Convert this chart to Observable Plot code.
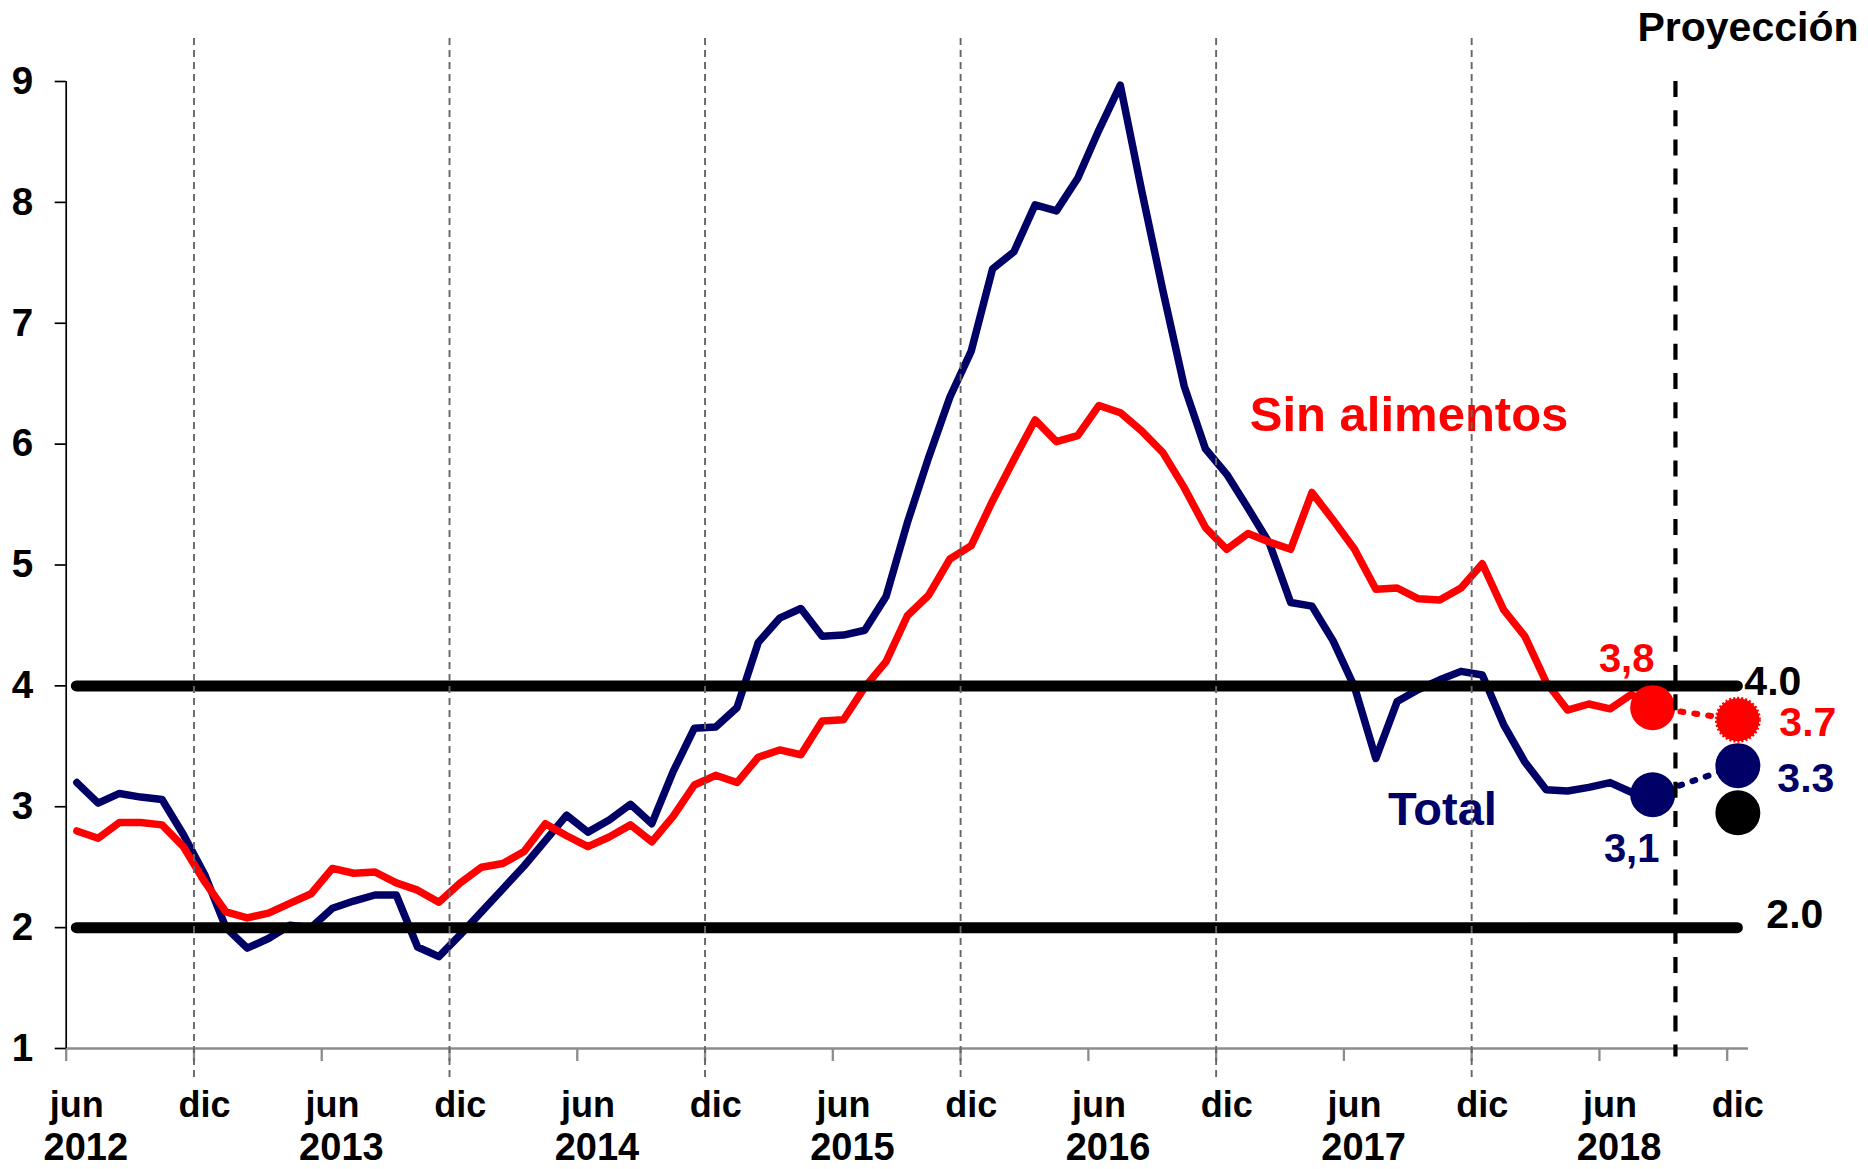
<!DOCTYPE html>
<html><head><meta charset="utf-8">
<script src="https://cdn.jsdelivr.net/npm/d3@7"></script>
<script src="https://cdn.jsdelivr.net/npm/@observablehq/plot@0.6"></script>
<style>
html,body{margin:0;padding:0;background:#fff}
svg{display:block}
</style>
</head><body><div id="chart"></div>
<script>
// month index 0 = jun 2012 ... 74 = ago 2018, 78 = dic 2018
const total = [
 3.20, 3.03, 3.11, 3.08, 3.06, 2.77, 2.44,
 2.00, 1.83, 1.91, 2.02, 2.00, 2.16, 2.22, 2.27, 2.27, 1.84, 1.76, 1.94,
 2.13, 2.32, 2.51, 2.72, 2.93, 2.79, 2.89, 3.02, 2.86, 3.29, 3.65, 3.66,
 3.82, 4.36, 4.56, 4.64, 4.41, 4.42, 4.46, 4.74, 5.35, 5.89, 6.39, 6.77,
 7.45, 7.59, 7.98, 7.93, 8.20, 8.60, 8.97, 8.10, 7.27, 6.48, 5.96, 5.75,
 5.47, 5.18, 4.69, 4.66, 4.37, 3.99, 3.40, 3.87, 3.97, 4.05, 4.12, 4.09,
 3.68, 3.37, 3.14, 3.13, 3.16, 3.20, 3.12, 3.10];
const sinAlimentos = [
 2.80, 2.74, 2.87, 2.87, 2.85, 2.67, 2.38,
 2.13, 2.08, 2.12, 2.20, 2.28, 2.49, 2.45, 2.46, 2.37, 2.31, 2.21, 2.37,
 2.50, 2.53, 2.63, 2.86, 2.76, 2.67, 2.75, 2.85, 2.71, 2.92, 3.18, 3.26,
 3.20, 3.41, 3.47, 3.43, 3.71, 3.72, 3.99, 4.20, 4.58, 4.75, 5.05, 5.16,
 5.53, 5.87, 6.20, 6.02, 6.07, 6.32, 6.26, 6.11, 5.93, 5.64, 5.31, 5.13,
 5.26, 5.19, 5.13, 5.60, 5.37, 5.13, 4.80, 4.81, 4.72, 4.71, 4.81, 5.01,
 4.63, 4.41, 4.03, 3.80, 3.85, 3.81, 3.93, 3.82];

const tickMonths = [0, 6, 12, 18, 24, 30, 36, 42, 48, 54, 60, 66, 72, 78];
const tickLabels = ["jun","dic","jun","dic","jun","dic","jun","dic","jun","dic","jun","dic","jun","dic"];
const yearMonths = [0, 12, 24, 36, 48, 60, 72];
const yearLabels = ["2012","2013","2014","2015","2016","2017","2018"];
const yTicks = [1, 2, 3, 4, 5, 6, 7, 8, 9];

const rangoMeta = [2, 4];
const rangoEtiquetas = ["2.0", "4.0"];

const ultimoMes = 74;
const ultimoEtiquetas = {sin: "3,8", total: "3,1"};
const proyMes = 78;
const proySin = 3.72, proyTotal = 3.34, proyMeta = 2.95;
const proyEtiquetas = {sin: "3.7", total: "3.3"};
const lineaProyeccion = 75.07;

const serieLabels = [
  {text: "Sin alimentos", m: 62.56, v: 6.24, color: "red"},
  {text: "Total", m: 64.13, v: 2.97, color: "navy"}
];

const NAVY = "#000066", RED = "#ff0000", GRAY = "#8c8c8c";
const colorOf = {red: RED, navy: NAVY};

const data = total.map((t, i) => ({m: i, total: t, sin: sinAlimentos[i]}));
const bounds = tickMonths.map(m => m - 0.5);
const dicBounds = tickMonths.filter((m, i) => tickLabels[i] === "dic" && m < proyMes).map(m => m - 0.5);

const lastSin = sinAlimentos[ultimoMes], lastTot = total[ultimoMes];
const bold = {fontWeight: "bold", lineAnchor: "middle"};

const plot = Plot.plot({
  width: 1868, height: 1169,
  marginLeft: 65.7, marginRight: 120, marginTop: 81, marginBottom: 121,
  x: {domain: [-0.5, 78.5], axis: null},
  y: {domain: [1, 9], axis: null},
  style: {fontFamily: "'Liberation Sans', Arial, sans-serif", fontWeight: "bold", fontSize: "36px", background: "#fff", overflow: "visible", color: "black"},
  marks: [
    // x axis
    Plot.ruleY([1], {x1: -0.5, x2: 78.5, stroke: GRAY, strokeWidth: 2.3}),
    Plot.axisX({ticks: bounds, tickSize: 13, tickFormat: () => "", stroke: GRAY, strokeWidth: 2.3, label: null, anchor: "bottom"}),
    // y axis
    Plot.ruleX([-0.5], {y1: 1, y2: 9, stroke: "black", strokeWidth: 1.7}),
    Plot.axisY({ticks: yTicks, tickSize: 11, tickPadding: 22, fontSize: 38.6, fontWeight: "bold", stroke: "black", strokeWidth: 1.7, tickFormat: d => String(d), label: null, anchor: "left"}),
    // x labels
    Plot.text(tickMonths, {x: d => d, y: () => 1, text: (d, i) => tickLabels[i], dy: 56.5, fontSize: 36, fill: "black", ...bold}),
    Plot.text(yearMonths, {x: d => d, y: () => 1, text: (d, i) => yearLabels[i], dx: 9, dy: 99, fontSize: 38, fill: "black", ariaLabel: "years", ...bold}),
    // series
    Plot.line(data, {x: "m", y: "total", stroke: NAVY, strokeWidth: 7.5, strokeLinejoin: "round", strokeLinecap: "round"}),
    Plot.line(data, {x: "m", y: "sin", stroke: RED, strokeWidth: 7.5, strokeLinejoin: "round", strokeLinecap: "round"}),
    // target range
    Plot.ruleY(rangoMeta, {x1: 0, x2: proyMes, stroke: "black", strokeWidth: 11, strokeLinecap: "round"}),
    Plot.text([rangoMeta[1]], {x: () => proyMes, y: d => d, text: () => rangoEtiquetas[1], dx: 35, dy: -4, fontSize: 41, fill: "black", ...bold}),
    Plot.text([rangoMeta[0]], {x: () => proyMes, y: d => d, text: () => rangoEtiquetas[0], dx: 57, dy: -13, fontSize: 41, fill: "black", ...bold}),
    // connectors to projection
    Plot.line([{m: ultimoMes, v: lastSin}, {m: proyMes, v: proySin}], {x: "m", y: "v", stroke: RED, strokeWidth: 6, strokeDasharray: "3,11", strokeLinecap: "round"}),
    Plot.line([{m: ultimoMes, v: lastTot}, {m: proyMes, v: proyTotal}], {x: "m", y: "v", stroke: NAVY, strokeWidth: 6, strokeDasharray: "3,11", strokeLinecap: "round"}),
    // dots
    Plot.dot([proyMeta], {x: () => proyMes, y: d => d, r: 22.5, fill: "black"}),
    Plot.dot([proyTotal], {x: () => proyMes, y: d => d, r: 22.5, fill: NAVY}),
    Plot.dot([proySin], {x: () => proyMes, y: d => d, r: 21.5, fill: RED, stroke: RED, strokeWidth: 3, strokeDasharray: "2,2"}),
    Plot.dot([lastSin], {x: () => ultimoMes, y: d => d, r: 22.5, fill: RED}),
    Plot.dot([lastTot], {x: () => ultimoMes, y: d => d, r: 22.5, fill: NAVY}),
    // value labels
    Plot.text([lastSin], {x: () => ultimoMes, y: d => d, text: () => ultimoEtiquetas.sin, dx: -26, dy: -48, fontSize: 40, fill: RED, ...bold}),
    Plot.text([lastTot], {x: () => ultimoMes, y: d => d, text: () => ultimoEtiquetas.total, dx: -21, dy: 55, fontSize: 40, fill: NAVY, ...bold}),
    Plot.text([proySin], {x: () => proyMes, y: d => d, text: () => proyEtiquetas.sin, dx: 70, dy: 3.5, fontSize: 41, fill: RED, ...bold}),
    Plot.text([proyTotal], {x: () => proyMes, y: d => d, text: () => proyEtiquetas.total, dx: 68, dy: 13, fontSize: 41, fill: NAVY, ...bold}),
    // series labels
    Plot.text(serieLabels, {x: "m", y: "v", text: "text", fill: d => colorOf[d.color], fontSize: d => d.text === "Total" ? 47 : 49, ...bold}),
    // december dashed guides
    Plot.ruleX(dicBounds, {x: d => d, y1: 0.76, y2: 9.39, stroke: "#666666", strokeWidth: 1.9, strokeDasharray: "7,5"}),
    // projection line
    Plot.ruleX([lineaProyeccion], {x: d => d, y1: 9.0, y2: 0.93, stroke: "black", strokeWidth: 4.2, strokeDasharray: "16,13.2"}),
    Plot.text(["Proyección"], {frameAnchor: "top-right", text: d => d, dx: 110, dy: -54, fontSize: 41, fill: "black", textAnchor: "end", ...bold})
  ]
});

document.getElementById("chart").appendChild(plot);

// condensed year labels (narrow in the original)
plot.querySelectorAll('g[aria-label="years"] text').forEach(t => {
  const tr = t.getAttribute("transform") || "";
  const x = t.getAttribute("x"), y = t.getAttribute("y");
  let nt = tr;
  if (x != null || y != null) { nt += ` translate(${x || 0},${y || 0})`; t.removeAttribute("x"); t.removeAttribute("y"); }
  t.setAttribute("transform", nt + " scale(1,1.2)");
});
</script>
</body></html>
